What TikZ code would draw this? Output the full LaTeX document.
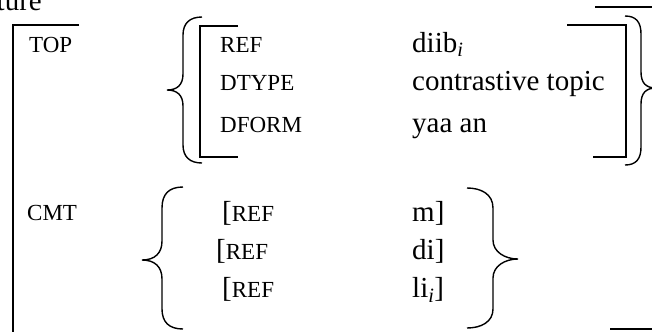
\documentclass[tikz,border=0pt]{standalone}
\usepackage{fontspec}
\setmainfont{Liberation Serif}
\begin{document}
\begin{tikzpicture}[x=1bp,y=-1bp,
  lbl/.style={anchor=base west,inner sep=0pt,font=\fontsize{23bp}{26bp}\selectfont},
  val/.style={anchor=base west,inner sep=0pt,font=\fontsize{29bp}{32bp}\selectfont},
  ln/.style={line width=1.4bp,line cap=butt,line join=miter},
  br/.style={line width=1.4bp}]
\useasboundingbox (0,0) rectangle (652,331);
% cut-off heading
\node[val,anchor=base east] (head) at (42,10) {ture};
% outer bracket parts
\draw[ln] (79,25) -- (13,25) -- (13,335);
\draw[ln] (595,7) -- (656,7);
\draw[ln] (610,329) -- (656,329);
% labels
\node[lbl] (top) at (29,52) {TOP};
\node[lbl] (cmt) at (27,220) {CMT};
% TOP inner
\draw[br] (202,17) .. controls (190,17) and (183,23) .. (183,35) -- (183,74)
  .. controls (183,85) and (177,90) .. (167,90)
  .. controls (177,90) and (183,95) .. (183,106) -- (183,145)
  .. controls (183,157) and (190,163) .. (202,163);
\draw[ln] (238,26) -- (200,26) -- (200,157) -- (238,157);
\node[lbl] (ref1) at (220,52) {REF};
\node[lbl] (dtype) at (220,90.5) {DTYPE};
\node[lbl] (dform) at (220,132.5) {DFORM};
\node[val] (v1) at (412,52) {diib\textsubscript{\itshape i}};
\node[val] (v2) at (412,90.5) {contrastive topic};
\node[val] (v3) at (412,132) {yaa an};
\draw[ln] (567,25) -- (626,25) -- (626,157) -- (593,157);
\draw[br] (625,16) .. controls (636,16) and (641,22) .. (641,34) -- (641,72)
  .. controls (641,83) and (646,88) .. (656,88)
  .. controls (646,88) and (641,93) .. (641,104) -- (641,147)
  .. controls (641,159) and (636,165) .. (625,165);
% CMT inner
\draw[br] (183,187) .. controls (169,187) and (162,194) .. (162,208) -- (162,241)
  .. controls (162,253) and (155,260) .. (142,260)
  .. controls (155,260) and (162,267) .. (162,279) -- (162,309)
  .. controls (162,322) and (169,329) .. (183,329);
\node[val] (b1) at (222,221) {[\fontsize{23bp}{26bp}\selectfont REF};
\node[val] (b2) at (216,259.5) {[\fontsize{23bp}{26bp}\selectfont REF};
\node[val] (b3) at (222,297) {[\fontsize{23bp}{26bp}\selectfont REF};
\node[val] (w1) at (412,221.5) {m]};
\node[val] (w2) at (412,259.5) {di]};
\node[val] (w3) at (412,297.5) {li\textsubscript{\itshape i}]};
\draw[br] (467,188) .. controls (481,188) and (493,194) .. (493,208) -- (493,240)
  .. controls (493,252) and (505,259) .. (518,259)
  .. controls (505,259) and (493,266) .. (493,278) -- (493,309)
  .. controls (493,322) and (481,328) .. (467,328);
\end{tikzpicture}
\end{document}
